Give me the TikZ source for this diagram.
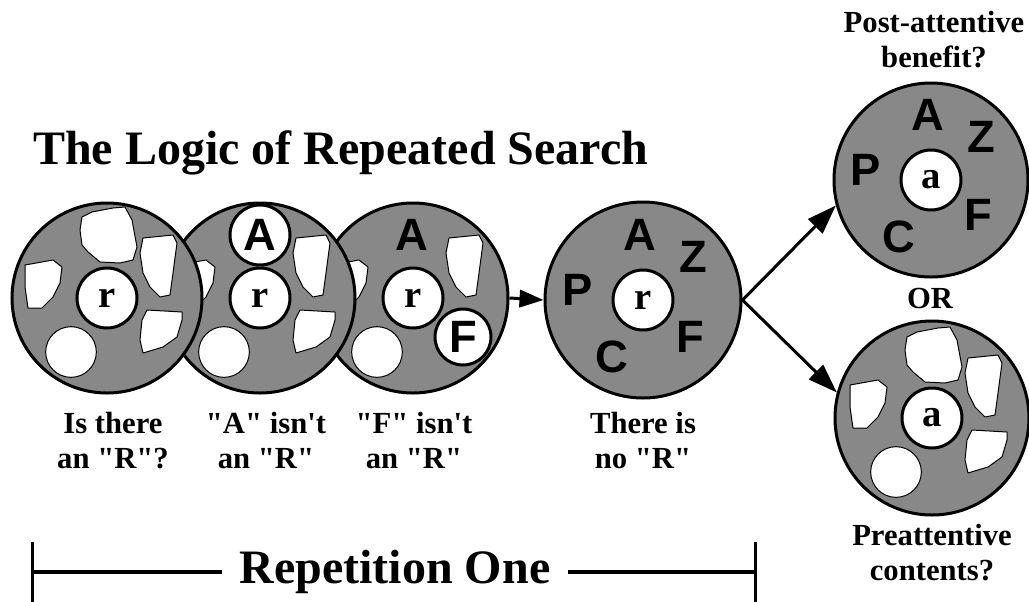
\documentclass[tikz,border=0pt]{standalone}
\usepackage{fontspec}
\setmainfont{Liberation Serif}[Ligatures=TeXOff]
\newfontfamily\lettersf{Liberation Sans}
\usetikzlibrary{arrows.meta}
\definecolor{diskgray}{RGB}{136,136,136}

\tikzset{
	blob/.style={draw,fill=white,line width=0.75pt,line join=round},
	pics/blobtop/.style={code={\draw[blob] (-25,-81) -- (-15,-86) -- (6,-90) -- (18,-91) -- (25,-78) -- (30,-51) -- (26,-38) -- (13,-35) -- (-7,-36) -- (-19,-46) -- (-25,-53) -- (-27,-68) -- cycle;}},
	pics/blobright/.style={code={\draw[blob] (36,-60) -- (66,-63) -- (70,-55) -- (66,-25) -- (63,-3) -- (53,-1) -- (43,-11) -- (36,-25) -- (33,-45) -- cycle;}},
	pics/blobleft/.style={code={\draw[blob] (-82,-33) -- (-54,-38) -- (-45,-31) -- (-47,-15) -- (-54,-1) -- (-65,10) -- (-79,10) -- (-82,-11) -- cycle;}},
	pics/blobdown/.style={code={\draw[blob] (40,12) -- (75,14) -- (75,22) -- (70,39) -- (56,49) -- (36,55) -- (33,42) -- (35,22) -- cycle;}},
	pics/blobround/.style={code={\draw[blob] (-36,54) circle[radius=19pt];}}
}

\begin{document}
\begin{tikzpicture}[x=0.75pt,y=-0.75pt,
	disk/.style={circle,draw,fill=diskgray,line width=2.25pt,minimum size=142.5pt,inner sep=0pt},
	core/.style={circle,draw,fill=white,line width=2.25pt,minimum size=45pt,inner sep=0pt,font=\fontsize{29}{29}\selectfont\bfseries},
	letter/.style={inner sep=0pt,font=\lettersf\fontsize{34}{34}\selectfont\bfseries},
	lbl/.style={align=center,inner sep=0pt,font=\fontsize{23}{26}\selectfont\bfseries},
	big/.style={inner sep=0pt,font=\fontsize{36}{36}\selectfont\bfseries},
	link/.style={line width=2.25pt,-{Triangle[length=22pt,width=15pt]}},
	span/.style={line width=2.6pt,-{Bar[width=45pt]}}]
	\useasboundingbox (0,0) rectangle (1029,601);

	\node (title) at (33,164) [big,anchor=base west] {The Logic of Repeated Search};

	\node (s3) at (413,298) [disk] {};
	\pic at (s3) {blobright};
	\pic at (s3) {blobleft};
	\pic at (s3) {blobround};
	\node (a3) at (412,235) [letter] {A};
	\node (r3) at (s3) [core] {r};
	\node (f3) at (463,337) [core,letter,minimum size=42pt] {F};

	\node (s2) at (260,298) [disk] {};
	\pic at (s2) {blobright};
	\pic at (s2) {blobleft};
	\pic at (s2) {blobdown};
	\pic at (s2) {blobround};
	\node (a2) at (260,235) [core,letter] {A};
	\node (r2) at (s2) [core] {r};

	\node (s1) at (107,298) [disk] {};
	\pic at (s1) {blobtop};
	\pic at (s1) {blobright};
	\pic at (s1) {blobleft};
	\pic at (s1) {blobdown};
	\pic at (s1) {blobround};
	\node (r1) at (s1) [core] {r};

	\node (s4) at (643,300) [disk,minimum size=147pt] {};
	\node (a4) at (640,235) [letter] {A};
	\node (z4) at (693,257) [letter] {Z};
	\node (p4) at (578,290) [letter] {P};
	\node (f4) at (690,337) [letter] {F};
	\node (c4) at (612,357) [letter] {C};
	\node (r4) at (s4) [core] {r};

	\node (s5) at (931,180) [disk,minimum size=145.5pt] {};
	\node (a5) at (928,115) [letter] {A};
	\node (z5) at (981,137) [letter] {Z};
	\node (p5) at (866,170) [letter] {P};
	\node (f5) at (978,215) [letter] {F};
	\node (c5) at (899,237) [letter] {C};
	\node (m5) at (s5) [core] {a};

	\node (s6) at (932,418) [disk,minimum size=145.5pt] {};
	\pic at (s6) {blobtop};
	\pic at (s6) {blobright};
	\pic at (s6) {blobleft};
	\pic at (s6) {blobdown};
	\pic at (s6) {blobround};
	\node (m6) at (s6) [core] {a};

	\draw [link,-{Triangle[length=18pt,width=13pt]}] (s3.east) -- (s4.west);
	\draw [link] (s4.east) -- (s5.195);
	\draw [link] (s4.east) -- (s6.165);

	\node (q1) at (113,468) [lbl,anchor=base] {Is there\\an "R"?};
	\node (q2) at (266,468) [lbl,anchor=base] {"A" isn't\\an "R"};
	\node (q3) at (414,468) [lbl,anchor=base] {"F" isn't\\an "R"};
	\node (q4) at (643,468) [lbl,anchor=base] {There is\\no "R"};
	\node (post) at (934,67) [lbl,anchor=base] {Post-attentive\\benefit?};
	\node (or) at (930,308) [lbl,anchor=base] {OR};
	\node (pre) at (932,580) [lbl,anchor=base] {Preattentive\\contents?};

	\node (rep) at (395,583) [big,anchor=base,inner xsep=13pt] {Repetition One};
	\coordinate (bl) at (31,572);
	\coordinate (br) at (757,572);
	\draw [span] (rep.west |- bl) -- (bl);
	\draw [span] (rep.east |- br) -- (br);
\end{tikzpicture}
\end{document}
